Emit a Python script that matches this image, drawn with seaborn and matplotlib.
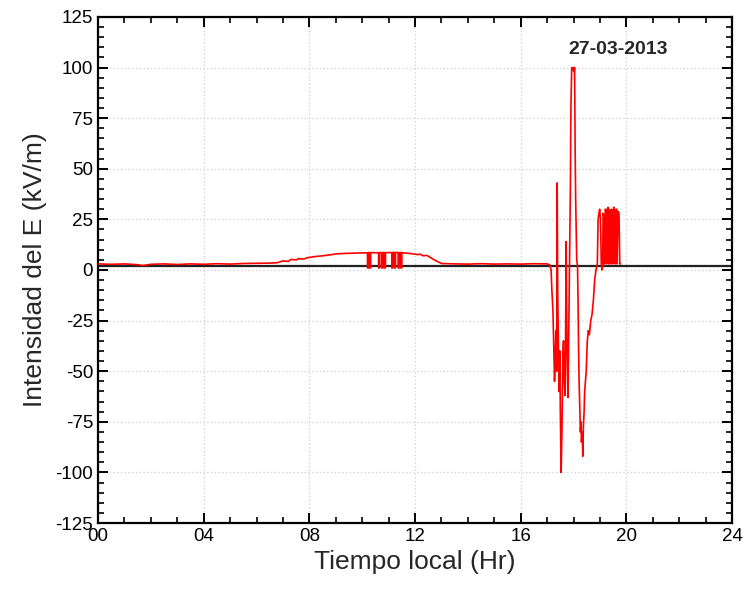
import matplotlib
matplotlib.use("Agg")
import matplotlib.pyplot as plt
import seaborn as sns
import pandas as pd
from matplotlib.ticker import MultipleLocator

# ---- data ----
hours = [0.0, 0.5, 1.0, 1.5, 1.7, 2.0, 2.5, 3.0, 3.5, 4.0, 4.5, 5.0, 5.5, 6.0, 6.5,
         6.8, 7.0, 7.2, 7.3, 7.5, 7.6, 7.8, 7.9, 8.2, 8.5, 8.8, 9.05, 9.4, 9.7, 10.0, 10.15,
         10.2, 10.2, 10.24, 10.24, 10.28, 10.28, 10.32, 10.32, 10.5,
         10.62, 10.62, 10.66, 10.66, 10.74, 10.74, 10.78, 10.78, 10.84, 10.84, 10.88, 10.88, 11.0,
         11.12, 11.12, 11.16, 11.16, 11.22, 11.22, 11.26, 11.26, 11.36, 11.36, 11.40, 11.40,
         11.46, 11.46, 11.50, 11.50, 11.6,
         11.7, 11.9, 12.1, 12.2, 12.3, 12.45, 12.6, 12.8, 13.0, 13.5, 14.0, 14.5, 15.0, 15.5,
         16.0, 16.5, 17.0, 17.10, 17.15, 17.18, 17.22, 17.26, 17.28, 17.30, 17.33,
         17.36, 17.38, 17.40, 17.42, 17.45, 17.48, 17.50, 17.53, 17.56, 17.58, 17.60,
         17.62, 17.65, 17.68, 17.70, 17.72, 17.74, 17.76, 17.79, 17.82, 17.85, 17.88,
         17.90, 17.93, 17.96, 17.99, 18.02, 18.04, 18.06, 18.08, 18.10, 18.12, 18.15,
         18.17, 18.19, 18.21, 18.24, 18.26, 18.28, 18.30, 18.33, 18.35, 18.37, 18.40,
         18.42, 18.45, 18.48, 18.52, 18.56, 18.60, 18.65, 18.70, 18.75, 18.80, 18.85,
         18.90, 18.93, 18.96, 18.99, 19.02, 19.05, 19.08, 19.10, 19.12, 19.15, 19.17,
         19.20, 19.23, 19.25, 19.28, 19.31, 19.33, 19.36, 19.39, 19.41, 19.44, 19.47,
         19.49, 19.52, 19.55, 19.58, 19.60, 19.63, 19.65, 19.68, 19.72, 19.75, 19.78]
field_kv_m = [3.0, 2.8, 3.0, 2.6, 2.2, 2.8, 3.0, 2.7, 3.0, 2.8, 3.1, 2.9, 3.2, 3.3, 3.4,
              3.6, 4.5, 4.2, 5.2, 5.0, 5.6, 5.4, 6.0, 6.6, 7.0, 7.5, 8.0, 8.2, 8.3, 8.4, 8.5,
              8.5, 1.0, 1.0, 8.6, 8.6, 1.0, 1.0, 8.6, 8.5,
              8.5, 1.0, 1.0, 8.6, 8.6, 1.0, 1.0, 8.6, 8.6, 1.0, 1.0, 8.5, 8.6,
              8.6, 1.0, 1.0, 8.7, 8.7, 1.0, 1.0, 8.6, 8.6, 1.0, 1.0, 8.6,
              8.6, 1.0, 1.0, 8.6, 8.4,
              8.3, 8.0, 7.6, 7.8, 7.0, 7.2, 6.0, 4.5, 3.2, 3.0, 2.9, 3.1, 2.9, 3.0,
              2.9, 3.1, 3.0, 2.5, 0.0, -10.0, -20.0, -45.0, -55.0, -48.0, -30.0,
              -50.0, 43.0, -10.0, -30.0, -60.0, -40.0, -70.0, -100.0, -80.0, -60.0, -40.0,
              -35.0, -55.0, -62.0, -30.0, 14.0, -20.0, -45.0, -63.0, -30.0, 0.0, 40.0,
              80.0, 100.0, 99.0, 100.0, 98.0, 100.0, 60.0, 35.0, 20.0, 5.0, 2.0,
              -15.0, -38.0, -55.0, -70.0, -80.0, -75.0, -85.0, -80.0, -92.0, -78.0, -70.0,
              -60.0, -55.0, -50.0, -35.0, -30.0, -32.0, -25.0, -22.0, -15.0, -5.0, 0.0,
              3.0, 25.0, 28.0, 30.0, 25.0, 3.0, 0.0, 2.0, 28.0, 26.0, 3.0,
              30.0, 30.0, 3.0, 29.0, 31.0, 3.0, 30.0, 28.0, 3.0, 30.0, 29.0,
              3.0, 31.0, 30.0, 3.0, 29.0, 30.0, 3.0, 29.0, 28.0, 3.0, 3.0]
reference_level = 2.0
x_ticks = [0, 4, 8, 12, 16, 20, 24]
x_tick_labels = ["00", "04", "08", "12", "16", "20", "24"]
y_ticks = [-125, -100, -75, -50, -25, 0, 25, 50, 75, 100, 125]
date_label = "27-03-2013"

df = pd.DataFrame({"hora": hours, "campo": field_kv_m})

sns.set_style("ticks")
plt.rcParams["font.family"] = ["Liberation Sans", "DejaVu Sans"]
plt.rcParams["axes.unicode_minus"] = False

fig = plt.figure(figsize=(7.47, 5.94), dpi=100)
ax = fig.add_axes([0.1312, 0.1195, 0.8488, 0.852])

ax.grid(True, which="major", color="#cfcfcf", linestyle=(0, (1, 2)), linewidth=0.9)
ax.set_axisbelow(True)

ax.axhline(reference_level, color="#222222", linewidth=1.6, zorder=2)
sns.lineplot(data=df, x="hora", y="campo", ax=ax, color="#ff0000",
             linewidth=1.2, sort=False, estimator=None, zorder=3)

ax.set_xlim(0, 24)
ax.set_ylim(-125, 125)
ax.set_xticks(x_ticks)
ax.set_xticklabels(x_tick_labels)
ax.set_yticks(y_ticks)
ax.xaxis.set_minor_locator(MultipleLocator(1))
ax.yaxis.set_minor_locator(MultipleLocator(5))
ax.tick_params(which="both", direction="in", top=True, right=True, colors="black",
               labelsize=13.5, width=1.4)
ax.tick_params(which="major", length=7)
ax.tick_params(which="minor", length=4, width=1.2)
for s in ax.spines.values():
    s.set_linewidth(1.6)
    s.set_color("black")

ax.set_xlabel("Tiempo local (Hr)", fontsize=19, labelpad=4)
ax.set_ylabel("Intensidad del E (kV/m)", fontsize=19, labelpad=6)
ax.text(19.7, 109, date_label, fontsize=14, fontweight="bold", ha="center", va="center")

fig.savefig("out.png", dpi=100)
